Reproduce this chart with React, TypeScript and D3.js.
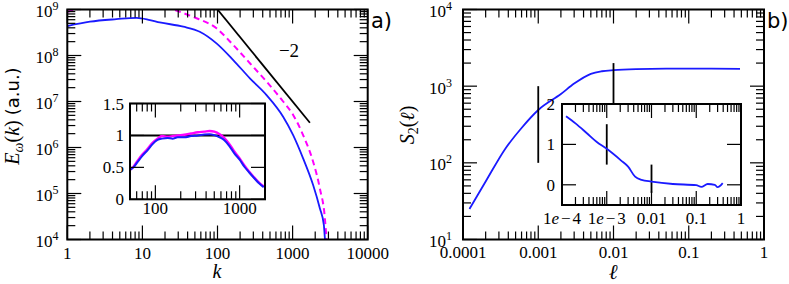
import React from 'react';
import * as d3 from 'd3';

// panel a) energy spectrum, main
const specK = [1, 2, 4.5, 8.4, 12.6, 17, 35, 58, 97, 162, 270, 450, 748, 1017, 1380, 1876, 2305, 2606, 2690, 2760];
const specBlue = [4.37e8, 5.43e8, 6.17e8, 6.6e8, 5.9e8, 5.25e8, 4.23e8, 3.29e8, 1.84e8, 7.98e7, 3.19e7, 1.38e7, 4.68e6, 1.86e6, 5.82e5, 1.53e5, 4.79e4, 2.07e4, 1.07e4, 7e3];
const specMagK = [1, 1.3, 2, 5, 10, 20, 27, 47.5, 97, 162, 270, 450, 748, 1017, 1380, 1876, 2305, 2690, 2820, 2870];
const specMag = [8.9e8, 1e9, 1.2e9, 1.41e9, 1.45e9, 1.2e9, 9.8e8, 6.9e8, 3.9e8, 1.69e8, 6.8e7, 2.7e7, 1e7, 5.1e6, 1.86e6, 4.9e5, 1.29e5, 2.9e4, 1.07e4, 7e3];
const slopeLineK = [100, 1700];
const slopeLineE = [1e9, 3.46e6];

// panel a) inset, compensated spectrum
const compK = [50, 55, 62, 70, 81, 92, 106, 120, 140, 160, 184, 220, 265, 320, 381, 440, 501, 580, 659, 760, 865, 1000, 1138, 1300, 1493, 1700, 1930];
const compBlue = [0.46, 0.5, 0.59, 0.68, 0.77, 0.86, 0.93, 0.95, 0.96, 0.95, 0.97, 0.97, 0.99, 1.0, 1.015, 1.02, 1.005, 0.97, 0.925, 0.83, 0.72, 0.62, 0.51, 0.42, 0.33, 0.25, 0.19];
const compMag = [0.46, 0.51, 0.61, 0.7, 0.79, 0.88, 0.95, 0.99, 0.98, 0.99, 1.0, 1.01, 1.03, 1.05, 1.06, 1.07, 1.06, 1.02, 0.96, 0.86, 0.75, 0.64, 0.53, 0.43, 0.34, 0.26, 0.2];

// panel b) structure function
const sfL = [1.22e-4, 2e-4, 3.65e-4, 6e-4, 1e-3, 2e-3, 3e-3, 5e-3, 7e-3, 1e-2, 2e-2, 5e-2, 0.1, 0.2, 0.48];
const sfS = [25, 57, 153, 285, 489, 790, 1080, 1450, 1565, 1620, 1670, 1690, 1690, 1690, 1680];
// panel b) inset, local slope
const lsL = [1.23e-4, 2e-4, 3.65e-4, 6e-4, 1e-3, 2.1e-3, 3e-3, 4.3e-3, 6e-3, 1e-2, 0.03, 0.1, 0.13, 0.18, 0.26, 0.3, 0.39];
const lsV = [1.695, 1.52, 1.27, 1.06, 0.89, 0.6, 0.45, 0.2, 0.12, 0.08, 0.02, -0.01, -0.05, 0.02, 0, -0.06, 0.04];

const xLabelsA = ['1', '10', '100', '1000', '10000'];
const yExpA = ['4', '5', '6', '7', '8', '9'];
const xLabelsB = ['0.0001', '0.001', '0.01', '0.1', '1'];
const yExpB = ['1', '2', '3', '4'];
const insetAX = ['100', '1000'];
const insetAY = ['0', '0.5', '1', '1.5'];
const insetBX = ['1e-4', '1e-3', '0.01', '0.1', '1'];
const insetBY = ['0', '1', '2'];

const SERIF = '"Liberation Serif", "Times New Roman", serif';
const SANS = '"DejaVu Sans", sans-serif';
const BLUE = '#1a1aff';
const MAG = '#ff00ff';

function logTicks(lo: number, hi: number) {
  const out: { v: number; major: boolean }[] = [];
  for (let e = Math.floor(Math.log10(lo)); e <= Math.ceil(Math.log10(hi)); e++) {
    for (let m = 1; m < 10; m++) {
      const v = m * Math.pow(10, e);
      if (v >= lo * 0.999 && v <= hi * 1.001) out.push({ v, major: m === 1 });
    }
  }
  return out;
}

type Tick = { v: number; major: boolean };

function BoxTicks({ x, y, xt, yt }: { x: any; y: any; xt: Tick[]; yt: Tick[] }) {
  const [x0, x1] = x.range();
  const [y0, y1] = y.range(); // y0 bottom, y1 top
  const L = (t: Tick) => (t.major ? 14 : 8);
  return (
    <g stroke="#000" strokeWidth={1.2}>
      {xt.map((t, i) => (
        <g key={'x' + i}>
          <line x1={x(t.v)} x2={x(t.v)} y1={y0} y2={y0 - L(t)} />
          <line x1={x(t.v)} x2={x(t.v)} y1={y1} y2={y1 + L(t)} />
        </g>
      ))}
      {yt.map((t, i) => (
        <g key={'y' + i}>
          <line x1={x0} x2={x0 + L(t)} y1={y(t.v)} y2={y(t.v)} />
          <line x1={x1} x2={x1 - L(t)} y1={y(t.v)} y2={y(t.v)} />
        </g>
      ))}
    </g>
  );
}

export default function App() {
  // panel a
  const xA = d3.scaleLog().domain([1, 1e4]).range([67.3, 367.7]);
  const yA = d3.scaleLog().domain([1e4, 1e9]).range([239.5, 9.5]);
  // panel b
  const xB = d3.scaleLog().domain([1e-4, 1]).range([463, 764]);
  const yB = d3.scaleLog().domain([10, 1e4]).range([239.5, 9.5]);
  // insets
  const xIA = d3.scaleLog().domain([50, 2000]).range([130, 265]);
  const yIA = d3.scaleLinear().domain([0, 1.5]).range([199.3, 103.5]);
  const xIB = d3.scaleLog().domain([1e-4, 1]).range([562, 741]);
  const yIB = d3.scaleLinear().domain([-0.5, 2]).range([205, 104]);

  const lineA = (ks: number[], es: number[]) =>
    d3.line<number>().x((_, i) => xA(ks[i])).y((_, i) => yA(es[i])).curve(d3.curveMonotoneX)(ks) || '';
  const lineIA = (vs: number[]) =>
    d3.line<number>().x((_, i) => xIA(compK[i])).y((_, i) => yIA(vs[i])).curve(d3.curveMonotoneX)(compK) || '';
  const lineB = d3.line<number>().x((_, i) => xB(sfL[i])).y((_, i) => yB(sfS[i])).curve(d3.curveMonotoneX)(sfL) || '';
  const lineIB = d3.line<number>().x((_, i) => xIB(lsL[i])).y((_, i) => yIB(lsV[i])).curve(d3.curveMonotoneX)(lsL) || '';

  const majA = logTicks(1, 1e4).filter(t => t.major);
  const majAy = logTicks(1e4, 1e9).filter(t => t.major);
  const majB = logTicks(1e-4, 1).filter(t => t.major);
  const majBy = logTicks(10, 1e4).filter(t => t.major);
  const insetATicksX = logTicks(50, 2000);
  const insetAValsY = [0, 0.5, 1, 1.5];
  const insetBValsY = [0, 1, 2];

  const frame = (x: any, y: any) => {
    const [a, b] = x.range();
    const [c, d] = y.range();
    return <rect x={a} y={d} width={b - a} height={c - d} fill="none" stroke="#000" strokeWidth={2} />;
  };

  return (
    <svg width={789} height={284} style={{ position: 'absolute', left: 0, top: 0, background: '#fff' }}>
      <defs>
        <clipPath id="clipA"><rect x={67.3} y={9.5} width={300.4} height={230} /></clipPath>
        <clipPath id="clipB"><rect x={463} y={9.5} width={301} height={230} /></clipPath>
      </defs>

      {/* ---------- panel a ---------- */}
      <g clipPath="url(#clipA)">
        <path d={lineA(specMagK, specMag)} fill="none" stroke={MAG} strokeWidth={2} strokeDasharray="6,4" />
        <path d={lineA(specK, specBlue)} fill="none" stroke={BLUE} strokeWidth={1.8} />
        <line x1={xA(slopeLineK[0])} y1={yA(slopeLineE[0])} x2={xA(slopeLineK[1])} y2={yA(slopeLineE[1])} stroke="#000" strokeWidth={1.8} />
      </g>
      <BoxTicks x={xA} y={yA} xt={logTicks(1, 1e4)} yt={logTicks(1e4, 1e9)} />
      {frame(xA, yA)}
      <g fontFamily={SERIF} fontSize={17} fill="#000">
        {majA.map((t, i) => (
          <text key={i} x={xA(t.v)} y={258.5} textAnchor="middle">{xLabelsA[i]}</text>
        ))}
        {majAy.map((t, i) => (
          <text key={i} x={58.5} y={yA(t.v) + 7.5} textAnchor="end">
            10<tspan fontSize={12} dy={-7}>{yExpA[i]}</tspan>
          </text>
        ))}
        <text x={289} y={56.5} textAnchor="middle" fontSize={19}>−2</text>
      </g>
      <text x={217} y={278} textAnchor="middle" fontFamily={SERIF} fontStyle="italic" fontSize={20}>k</text>
      <text transform="translate(19,116) rotate(-90)" textAnchor="middle" fontFamily={SERIF} fontSize={20}>
        <tspan fontStyle="italic">E</tspan>
        <tspan fontStyle="italic" fontSize={14} dy={4}>ω</tspan>
        <tspan dy={-4}>(</tspan>
        <tspan fontStyle="italic">k</tspan>
        <tspan>)</tspan>
        <tspan fontFamily={SANS} fontSize={18} dx={5}>(a.u.)</tspan>
      </text>
      <text x={371} y={28} fontFamily={SANS} fontSize={21}>a)</text>

      {/* inset a */}
      <rect x={130} y={103.5} width={135} height={95.8} fill="#fff" />
      <line x1={130} x2={265} y1={yIA(1)} y2={yIA(1)} stroke="#000" strokeWidth={2} />
      <path d={lineIA(compMag)} fill="none" stroke={MAG} strokeWidth={2.4} />
      <path d={lineIA(compBlue)} fill="none" stroke={BLUE} strokeWidth={2} />
      <BoxTicks x={xIA} y={yIA} xt={insetATicksX} yt={insetAValsY.map(v => ({ v, major: true }))} />
      {frame(xIA, yIA)}
      <g fontFamily={SERIF} fontSize={17} fill="#000">
        {[100, 1000].map((v, i) => (
          <text key={i} x={xIA(v)} y={213.5} textAnchor="middle">{insetAX[i]}</text>
        ))}
        {insetAValsY.map((v, i) => (
          <text key={i} x={124} y={yIA(v) + 6} textAnchor="end">{insetAY[i]}</text>
        ))}
      </g>

      {/* ---------- panel b ---------- */}
      <g clipPath="url(#clipB)">
        <path d={lineB} fill="none" stroke={BLUE} strokeWidth={1.8} />
      </g>
      <line x1={xB(1e-3)} x2={xB(1e-3)} y1={yB(100)} y2={yB(1000)} stroke="#000" strokeWidth={1.8} />
      <line x1={xB(1e-2)} x2={xB(1e-2)} y1={yB(200)} y2={yB(2000)} stroke="#000" strokeWidth={1.8} />
      <BoxTicks x={xB} y={yB} xt={logTicks(1e-4, 1)} yt={logTicks(10, 1e4)} />
      {frame(xB, yB)}
      <g fontFamily={SERIF} fontSize={17} fill="#000">
        {majB.map((t, i) => (
          <text key={i} x={xB(t.v)} y={258} textAnchor="middle">{xLabelsB[i]}</text>
        ))}
        {majBy.map((t, i) => (
          <text key={i} x={452} y={yB(t.v) + 7.5} textAnchor="end">
            10<tspan fontSize={12} dy={-7}>{yExpB[i]}</tspan>
          </text>
        ))}
      </g>
      <text x={613} y={279} textAnchor="middle" fontFamily={SERIF} fontStyle="italic" fontSize={21}>ℓ</text>
      <text transform="translate(414,125) rotate(-90)" textAnchor="middle" fontFamily={SERIF} fontSize={20}>
        <tspan fontStyle="italic">S</tspan>
        <tspan fontSize={14} dy={4}>2</tspan>
        <tspan dy={-4}>(</tspan>
        <tspan fontStyle="italic">ℓ</tspan>
        <tspan>)</tspan>
      </text>
      <text x={767} y={28} fontFamily={SANS} fontSize={21}>b)</text>

      {/* inset b */}
      <rect x={562} y={104} width={179} height={101} fill="#fff" />
      <line x1={xIB(1e-3)} x2={xIB(1e-3)} y1={yIB(0.5)} y2={yIB(1.5)} stroke="#000" strokeWidth={1.8} />
      <line x1={xIB(1e-2)} x2={xIB(1e-2)} y1={yIB(-0.2)} y2={yIB(0.5)} stroke="#000" strokeWidth={1.8} />
      <path d={lineIB} fill="none" stroke={BLUE} strokeWidth={1.8} />
      <BoxTicks x={xIB} y={yIB} xt={logTicks(1e-4, 1)} yt={insetBValsY.map(v => ({ v, major: true }))} />
      {frame(xIB, yIB)}
      <g fontFamily={SERIF} fontSize={17} fill="#000">
        {majB.map((t, i) => {
          const lab = insetBX[i];
          if (lab.startsWith('1e')) {
            return (
              <text key={i} x={xIB(t.v)} y={224} textAnchor="middle">
                1<tspan fontStyle="italic">e</tspan>
                <tspan dx={2}>−</tspan>
                <tspan dx={2}>{lab.slice(3)}</tspan>
              </text>
            );
          }
          return <text key={i} x={xIB(t.v)} y={224} textAnchor="middle">{lab}</text>;
        })}
        {insetBValsY.map((v, i) => (
          <text key={i} x={555} y={yIB(v) + 6} textAnchor="end">{insetBY[i]}</text>
        ))}
      </g>
    </svg>
  );
}
